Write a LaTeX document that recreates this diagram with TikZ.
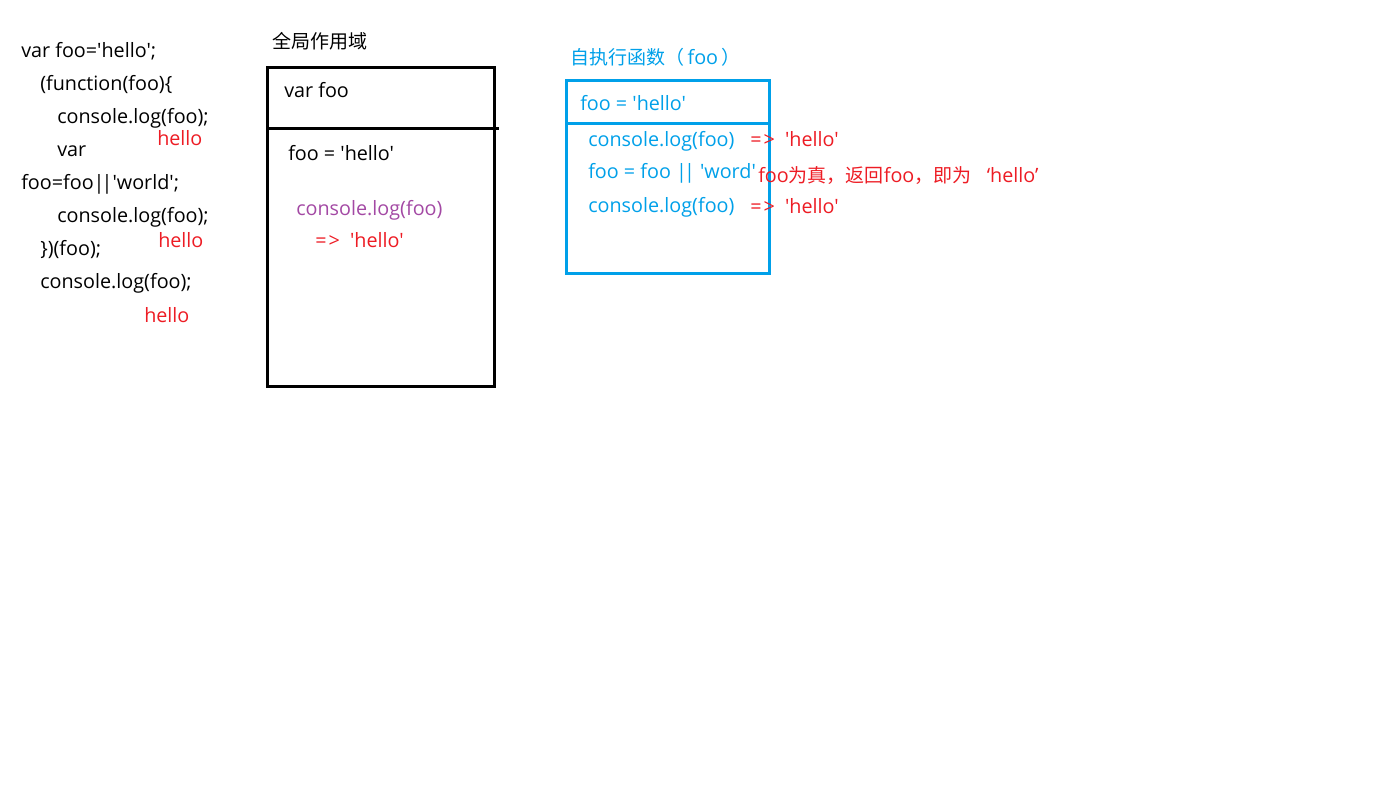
\documentclass[tikz,border=0pt]{standalone}
\usepackage{fontspec}
\setmainfont{Open Sans}[Ligatures=TeXOff,Scale=1.04]
\newfontfamily\cjk{Noto Sans CJK SC}
\usepackage{xcolor}
\usepackage{tikz}
\definecolor{scopeblue}{RGB}{0,160,233}
\definecolor{resred}{RGB}{237,28,36}
\definecolor{logpurple}{RGB}{163,73,164}
\newcommand{\orbars}{|\kern-2.2pt|}
\newcommand{\yields}{=\kern1.5pt>}

\begin{document}
\begin{tikzpicture}[x=0.75pt,y=-0.75pt,
	txt/.style={anchor=base west,inner sep=0pt,font=\fontsize{14.25}{17}\selectfont},
	res/.style={txt,text=resred},
	fn/.style={txt,text=scopeblue},
	frame/.style={line width=2.25pt}]
	\useasboundingbox (0,0) rectangle (1400,786);
	% source code
	\node[txt] (c1) at (21,57) {var foo='hello';};
	\node[txt] (c2) at (40,90) {(function(foo)\{};
	\node[txt] (c3) at (57,123) {console.log(foo);};
	\node[res] (h1) at (157,145) {hello};
	\node[txt] (c4) at (57,156) {var};
	\node[txt] (c5) at (21,189) {foo=foo\orbars'world';};
	\node[txt] (c6) at (57,222) {console.log(foo);};
	\node[res] (h2) at (158,247) {hello};
	\node[txt] (c7) at (40,255) {\})(foo);};
	\node[txt] (c8) at (40,288) {console.log(foo);};
	\node[res] (h3) at (144,322) {hello};
	% global scope
	\node[txt] (gtitle) at (272,48) {\cjk 全局作用域};
	\draw[frame] (267,67) rectangle (494,386);
	\draw[frame] (267,128) -- (499,128);
	\node[txt] (gvar) at (284,97) {var foo};
	\node[txt] (gset) at (288,160) {foo = 'hello'};
	\node[txt,text=logpurple] (glog) at (296,215) {console.log(foo)};
	\node[res] (gres) at (315,247) {\yields\ \ 'hello'};
	% self-invoking function scope
	\node[fn] (ftitle) at (570,64) {{\cjk 自执行函数（}\,foo\,{\cjk ）}};
	\draw[frame,scopeblue] (566,80) rectangle (769,273);
	\draw[frame,scopeblue] (566,123) -- (769,123);
	\node[fn] (farg) at (580,110) {foo = 'hello'};
	\node[fn] (flog1) at (588,146) {console.log(foo)};
	\node[res] (fres1) at (750,146) {\yields\ \ 'hello'};
	\node[fn] (fset) at (588,178) {foo = foo \orbars\ 'word'};
	\node[res] (fnote) at (758,182) {foo{\cjk 为真，返回}foo{\cjk ，即为}\ \ \ ‘hello’};
	\node[fn] (flog2) at (588,212) {console.log(foo)};
	\node[res] (fres2) at (750,213) {\yields\ \ 'hello'};
\end{tikzpicture}
\end{document}
